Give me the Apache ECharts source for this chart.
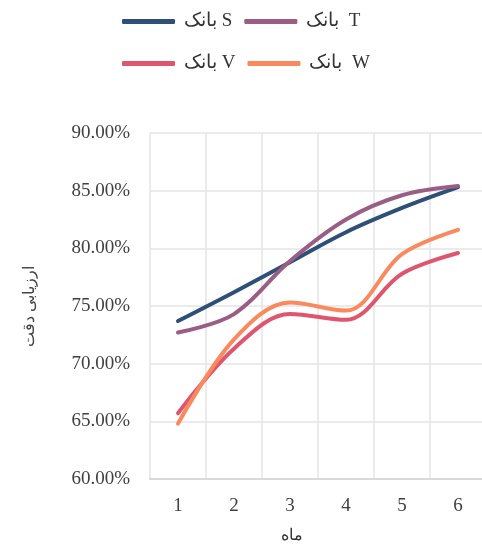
<!DOCTYPE html>
<html>
<head>
<meta charset="utf-8">
<script src="https://cdn.jsdelivr.net/npm/echarts@6/dist/echarts.min.js"></script>
<style>
html,body{margin:0;padding:0;background:#fff;}
#chart{width:482px;height:550px;}
</style>
</head>
<body>
<div id="chart"></div>
<script>
const months = ['1','2','3','4','5','6'];
const seriesNames = ['بانک S','بانک  T','بانک V','بانک  W'];
const bankS = [73.7, 76.2, 78.8, 81.4, 83.5, 85.3];
const bankT = [72.7, 74.3, 78.9, 82.5, 84.6, 85.4];
const bankV = [65.7, 71.3, 74.3, 73.8, 77.8, 79.6];
const bankW = [64.8, 72.1, 75.3, 74.6, 79.5, 81.6];
const yMin = 60, yMax = 90, yStep = 5;
const yTitle = 'ارزیابی دقت';
const xTitle = 'ماه';

const colors = ['#2e5078', '#9a5d84', '#df556e', '#fa8a5e'];
const serif = "'Liberation Serif', 'DejaVu Serif', serif";

const chart = echarts.init(document.getElementById('chart'));
const legendBase = {
  icon: 'roundRect',
  itemWidth: 53,
  itemHeight: 5,
  itemGap: 12,
  left: 117,
  textStyle: {fontFamily: serif, fontSize: 19, color: '#333', width: 58, padding: [0, 0, 0, 4]}
};
const allData = [bankS, bankT, bankV, bankW];
chart.setOption({
  animation: false,
  color: colors,
  legend: [
    Object.assign({}, legendBase, {top: 7, data: [seriesNames[0], seriesNames[1]]}),
    Object.assign({}, legendBase, {top: 49, data: [seriesNames[2], seriesNames[3]]})
  ],
  grid: {left: 150, top: 133, width: 336, bottom: 71, containLabel: false, outerBoundsMode: 'none'},
  xAxis: {
    type: 'category',
    data: months,
    boundaryGap: true,
    name: xTitle,
    nameLocation: 'middle',
    nameGap: 49,
    nameTextStyle: {fontFamily: serif, fontSize: 16, color: '#333', padding: [0, 52, 0, 0]},
    axisLine: {show: true, lineStyle: {color: '#d9d9d9', width: 2}},
    axisTick: {show: false},
    axisLabel: {fontFamily: serif, fontSize: 19, color: '#404040', margin: 18},
    splitLine: {show: true, lineStyle: {color: '#e4e4e4', width: 1.5}}
  },
  yAxis: {
    type: 'value',
    min: yMin, max: yMax, interval: yStep,
    name: yTitle,
    nameLocation: 'middle',
    nameRotate: 90,
    nameGap: 112,
    nameTextStyle: {fontFamily: serif, fontSize: 16, color: '#444'},
    axisLine: {show: false},
    axisTick: {show: false},
    axisLabel: {fontFamily: serif, fontSize: 19, color: '#404040', margin: 20,
      formatter: v => v.toFixed(2) + '%'},
    splitLine: {show: true, lineStyle: {color: '#e4e4e4', width: 1.5}}
  },
  series: seriesNames.map((n, i) => ({
    name: n,
    type: 'line',
    data: allData[i],
    smooth: 0.35,
    showSymbol: false,
    symbol: 'none',
    lineStyle: {width: 4, cap: 'round'}
  }))
});
</script>
</body>
</html>
